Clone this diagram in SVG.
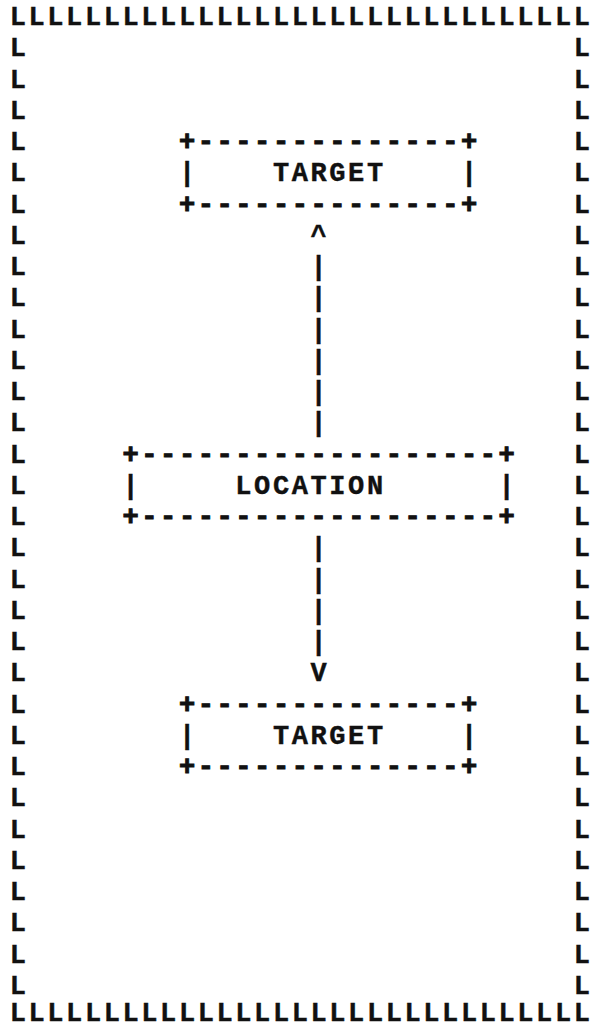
<svg xmlns="http://www.w3.org/2000/svg" width="591" height="1030" viewBox="0 0 591 1030">
<style>
text{font-family:"Liberation Mono","DejaVu Sans Mono",monospace;font-weight:bold;font-size:27px;letter-spacing:2.6px;fill:#111;stroke:#111;stroke-width:0.4px}
.row{letter-spacing:0}
.edge{stroke-width:1px}
</style>
<rect x="0" y="0" width="591" height="1030" fill="#fff"/>
<g id="frame">
<text class="row" x="9.7 28.5 47.3 66.1 84.9 103.7 122.5 141.3 160.1 178.9 197.7 216.5 235.3 254.1 272.9 291.7 310.5 329.3 348.1 366.9 385.7 404.5 423.3 442.1 460.9 479.7 498.5 517.3 536.1 554.9 573.7" y="25">LLLLLLLLLLLLLLLLLLLLLLLLLLLLLLL</text>
<text class="row" x="9.7 28.5 47.3 66.1 84.9 103.7 122.5 141.3 160.1 178.9 197.7 216.5 235.3 254.1 272.9 291.7 310.5 329.3 348.1 366.9 385.7 404.5 423.3 442.1 460.9 479.7 498.5 517.3 536.1 554.9 573.7" y="1021">LLLLLLLLLLLLLLLLLLLLLLLLLLLLLLL</text>
<text class="row" x="9.7 9.7 9.7 9.7 9.7 9.7 9.7 9.7 9.7 9.7 9.7 9.7 9.7 9.7 9.7 9.7 9.7 9.7 9.7 9.7 9.7 9.7 9.7 9.7 9.7 9.7 9.7 9.7 9.7 9.7 9.7" y="56.25 87.5 118.75 150 181.25 212.5 243.75 275 306.25 337.5 368.75 400 431.25 462.5 493.75 525 556.25 587.5 618.75 650 681.25 712.5 743.75 775 806.25 837.5 868.75 900 931.25 962.5 993.75">LLLLLLLLLLLLLLLLLLLLLLLLLLLLLLL</text>
<text class="row" x="573.7 573.7 573.7 573.7 573.7 573.7 573.7 573.7 573.7 573.7 573.7 573.7 573.7 573.7 573.7 573.7 573.7 573.7 573.7 573.7 573.7 573.7 573.7 573.7 573.7 573.7 573.7 573.7 573.7 573.7 573.7" y="56.25 87.5 118.75 150 181.25 212.5 243.75 275 306.25 337.5 368.75 400 431.25 462.5 493.75 525 556.25 587.5 618.75 650 681.25 712.5 743.75 775 806.25 837.5 868.75 900 931.25 962.5 993.75">LLLLLLLLLLLLLLLLLLLLLLLLLLLLLLL</text>
</g>
<g id="target-top">
<text class="edge" x="178.9" y="150">+--------------+</text>
<text x="178.9" y="181.25">|</text>
<text x="272.9" y="181.25">TARGET</text>
<text x="460.9" y="181.25">|</text>
<text class="edge" x="178.9" y="212.5">+--------------+</text>
</g>
<g id="location">
<text class="edge" x="122.5" y="462.5">+-------------------+</text>
<text x="122.5" y="493.75">|</text>
<text x="235.3" y="493.75">LOCATION</text>
<text x="498.5" y="493.75">|</text>
<text class="edge" x="122.5" y="525">+-------------------+</text>
</g>
<g id="target-bottom">
<text class="edge" x="178.9" y="712.5">+--------------+</text>
<text x="178.9" y="743.75">|</text>
<text x="272.9" y="743.75">TARGET</text>
<text x="460.9" y="743.75">|</text>
<text class="edge" x="178.9" y="775">+--------------+</text>
</g>
<g id="connectors">
<text x="310.5" y="243.75">^</text>
<text class="row" x="310.5 310.5 310.5 310.5 310.5 310.5" y="275 306.25 337.5 368.75 400 431.25">||||||</text>
<text class="row" x="310.5 310.5 310.5 310.5" y="556.25 587.5 618.75 650">||||</text>
<text x="310.5" y="681.25">V</text>
</g>
</svg>
